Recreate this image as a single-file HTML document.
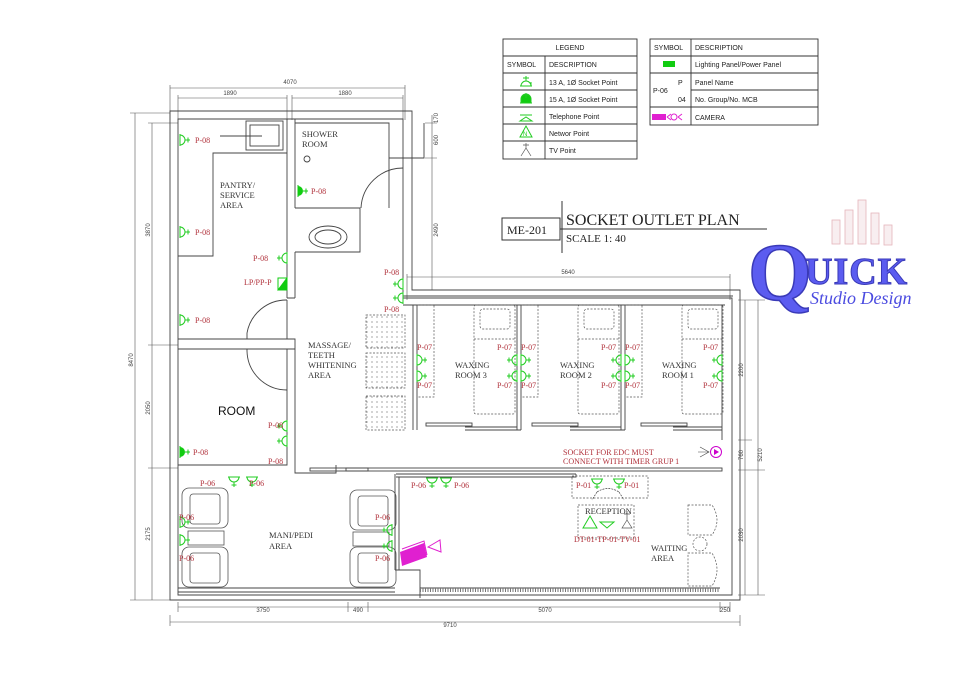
<!DOCTYPE html>
<html><head><meta charset="utf-8"><style>
html,body{margin:0;padding:0;background:#fff}
svg{display:block}
text{font-family:"Liberation Serif",serif}
.s,.s text,text.s{font-family:"Liberation Sans",sans-serif}
.r{fill:#b0303a;font-size:8px}
.l{fill:#333;font-size:8.5px}
.d,.d text{fill:#444;font-size:6px;font-family:"Liberation Sans",sans-serif}
</style></head><body>
<svg width="960" height="678" viewBox="0 0 960 678" xmlns="http://www.w3.org/2000/svg">
<defs>
<g id="sr"><path d="M0,-6 L0,6 M0,-5 A5,5 0 0 1 0,5 M5,0 L10,0 M8,-2.5 L8,2.5" fill="none" stroke="#2c2" stroke-width="1"/></g>
<g id="sl"><path d="M0,-6 L0,6 M0,-5 A5,5 0 0 0 0,5 M-5,0 L-10,0 M-8,-2.5 L-8,2.5" fill="none" stroke="#2c2" stroke-width="1"/></g>
<g id="sd"><path d="M-6,0 L6,0 M-5,0 A5,5 0 0 0 5,0 M0,5 L0,10 M-2.5,8 L2.5,8" fill="none" stroke="#2c2" stroke-width="1"/></g>
<g id="fr"><path d="M0,-5 A5,5 0 0 1 0,5 Z" fill="#1c1"/><path d="M0,-6 L0,6 M5,0 L10,0 M8,-2.5 L8,2.5" stroke="#1c1" stroke-width="1"/></g>
<pattern id="dots" width="5" height="5" patternUnits="userSpaceOnUse"><circle cx="2" cy="2" r="0.6" fill="#666"/></pattern>
</defs>
<g stroke="#555" stroke-width="0.6" fill="none">
<path d="M170,88 H405 M178,98 H287 M292,98 H403 M170,85 V120 M405,85 V120 M178,95 V120 M287,95 V120 M292,95 V120 M403,95 V120"/>
<path d="M135,113 V600 M130,113 H170 M130,600 H170 M152,123 V600 M148,123 H178 M148,345 H178 M148,468 H178 M148,600 H178"/>
<path d="M432,115 V290 M425,123 H437 M425,158 H437 M425,290 H437 M407,277 H730 M407,274 V300 M730,274 V300"/>
<path d="M745,300 V595 M758,300 V595 M738,300 H765 M738,440 H752 M738,470 H765 M738,595 H765"/>
<path d="M178,607 H730 M170,622 H740 M178,602 V612 M348,602 V612 M368,602 V612 M720,602 V612 M730,602 V612 M170,615 V626 M740,615 V626"/>
</g>
<g class="d" text-anchor="middle">
<text x="290" y="84">4070</text><text x="230" y="95">1890</text><text x="345" y="95">1880</text>
<text x="568" y="274">5640</text>
<text x="263" y="612">3750</text><text x="358" y="612">490</text><text x="545" y="612">5070</text><text x="725" y="612">250</text>
<text x="450" y="627">9710</text>
<text transform="translate(133,360) rotate(-90)">8470</text>
<text transform="translate(150,230) rotate(-90)">3870</text>
<text transform="translate(150,408) rotate(-90)">2050</text>
<text transform="translate(150,534) rotate(-90)">2175</text>
<text transform="translate(438,140) rotate(-90)">600</text>
<text transform="translate(438,118) rotate(-90)">170</text>
<text transform="translate(438,230) rotate(-90)">2490</text>
<text transform="translate(743,370) rotate(-90)">2200</text>
<text transform="translate(743,455) rotate(-90)">760</text>
<text transform="translate(743,535) rotate(-90)">2030</text>
<text transform="translate(762,455) rotate(-90)">5210</text>
</g>
<g stroke="#444" stroke-width="0.9" fill="none">
<path d="M170,111 H412 V290 H740 V600 H170 Z"/>
<path d="M178,119 H403 V298 H732 V595 H178 Z"/>
<path d="M287,119 V298 M295,119 V208 M295,252 V298 M287,298 H295"/>
<path d="M178,339 H295 V349 H178 M287,300 V339 M287,390 V465 H178 M295,390 V473 H336 V465 M295,349 V390 M287,349 V390"/>
<path d="M247,333 A40,40 0 0 1 287,300 M247,351 A40,40 0 0 0 287,390 M247,333 V339 M247,349 V351"/>
<path d="M178,256 H213 V153 H287"/>
<rect x="246" y="121" width="37" height="29"/><rect x="250" y="125" width="29" height="21"/>
<path d="M220,136 H262"/>
<path d="M295,123 H389 V158 H424 V123 M389,158 V208 M295,208 H360 V218 M295,252 H360 V218"/>
<path d="M361,208 A42,42 0 0 1 403,168"/>
<ellipse cx="328" cy="237" rx="19" ry="11"/><ellipse cx="328" cy="237" rx="13" ry="7"/>
<circle cx="307" cy="159" r="3"/>
<path d="M403,296 H733 M403,305 H725 M413,305 V430 M417,305 V430 M517,305 V430 M521,305 V430 M621,305 V430 M625,305 V430 M722,305 V440 M465,430 H521 M570,430 H625 M673,430 H722 M465,427 H517 M570,427 H621 M673,427 H722"/>
<rect x="426" y="423" width="46" height="3"/><rect x="532" y="423" width="46" height="3"/><rect x="641" y="423" width="46" height="3"/>
<rect x="346" y="468" width="376" height="3"/>
<path d="M396,474 H576 M396,477 H576 V474 M395,474 V570 M399,477 V570 M395,570 H420 V598 M178,588 H395 M178,592 H395 M420,588 H720"/>
<rect x="310" y="468" width="58" height="3"/>
</g>
<path d="M420,590 H720" stroke="#777" stroke-width="4" stroke-dasharray="1 1.5" fill="none"/>
<g stroke="#555" stroke-width="0.7" fill="none" stroke-dasharray="2 1.5">
<rect x="474" y="305" width="41" height="109" rx="2"/><rect x="480" y="309" width="30" height="20" rx="3"/><path d="M474,339 H515"/>
<rect x="578" y="305" width="41" height="109" rx="2"/><rect x="584" y="309" width="30" height="20" rx="3"/><path d="M578,339 H619"/>
<rect x="682" y="305" width="41" height="109" rx="2"/><rect x="688" y="309" width="30" height="20" rx="3"/><path d="M682,339 H723"/>
<rect x="417" y="305" width="17" height="92"/><rect x="521" y="305" width="17" height="92"/><rect x="625" y="305" width="17" height="92"/>
<rect x="366" y="315" width="39" height="33" fill="url(#dots)"/><rect x="366" y="353" width="39" height="35" fill="url(#dots)"/><rect x="366" y="396" width="39" height="34" fill="url(#dots)"/>
<rect x="572" y="476" width="76" height="22"/><rect x="578" y="505" width="56" height="33"/>
<path d="M688,505 H712 Q722,520 712,535 H688 Z M688,553 H712 Q722,570 712,586 H688 Z"/>
<circle cx="700" cy="544" r="7"/>
</g>
<g stroke="#555" stroke-width="0.8" fill="none">
<rect x="182" y="488" width="46" height="40" rx="7"/><rect x="190" y="494" width="30" height="30" rx="3"/>
<rect x="182" y="547" width="46" height="40" rx="7"/><rect x="190" y="553" width="30" height="30" rx="3"/>
<rect x="188" y="531" width="36" height="14"/>
<rect x="350" y="490" width="46" height="40" rx="7"/><rect x="358" y="496" width="30" height="30" rx="3"/>
<rect x="350" y="547" width="46" height="40" rx="7"/><rect x="358" y="553" width="30" height="30" rx="3"/>
<rect x="353" y="532" width="36" height="14"/>
</g>
<use href="#sr" x="180" y="140"/><use href="#sr" x="180" y="232"/><use href="#sr" x="180" y="320"/>
<use href="#fr" x="298" y="191"/><use href="#fr" x="180" y="452"/>
<use href="#sl" x="287" y="258"/><use href="#sl" x="287" y="426"/><use href="#sl" x="287" y="441"/>
<use href="#sl" x="403" y="284"/><use href="#sl" x="403" y="298"/>
<use href="#sr" x="417" y="360"/><use href="#sr" x="417" y="376"/>
<use href="#sl" x="517" y="360"/><use href="#sl" x="517" y="376"/><use href="#sr" x="521" y="360"/><use href="#sr" x="521" y="376"/>
<use href="#sl" x="621" y="360"/><use href="#sl" x="621" y="376"/><use href="#sr" x="625" y="360"/><use href="#sr" x="625" y="376"/>
<use href="#sl" x="722" y="360"/><use href="#sl" x="722" y="376"/>
<use href="#sd" x="234" y="477"/><use href="#sd" x="252" y="477"/><use href="#sd" x="432" y="478"/><use href="#sd" x="446" y="478"/>
<use href="#sd" x="597" y="479"/><use href="#sd" x="619" y="479"/>
<use href="#sr" x="180" y="522"/><use href="#sr" x="180" y="540"/><use href="#sl" x="392" y="530"/><use href="#sl" x="392" y="546"/>
<path d="M287,278 L287,290 L278,290 Z" fill="#1c1" stroke="#1c1"/><rect x="278" y="278" width="9" height="12" fill="none" stroke="#1c1"/>
<path d="M583,528 L590,516 L597,528 Z M600,522 H614 L607,528 Z" fill="none" stroke="#2c2"/>
<path d="M622,528 L627,520 L632,528 Z M627,520 V511 M624,514 H630" fill="none" stroke="#555" stroke-width="0.7"/>
<path d="M597,492 Q608,485 619,492 M597,492 L592,500 M619,492 L624,500" fill="none" stroke="#444" stroke-width="0.7" stroke-dasharray="2 1"/>
<path d="M400,552 L424,543 L427,557 L402,566 Z" fill="#e020d0"/>
<path d="M402,549 L424,541 L427,555" fill="none" stroke="#e020d0"/>
<path d="M428,547 L440,540 L441,552 Z" fill="none" stroke="#e020d0"/>
<circle cx="716" cy="452" r="5.5" fill="none" stroke="#c0c"/><path d="M714,449 L719,452 L714,455 Z" fill="#c0c"/>
<path d="M700,447 L709,452 L700,457 M698,452 H709" fill="none" stroke="#444" stroke-width="0.6"/>
<g class="r">
<text x="195" y="143">P-08</text><text x="195" y="235">P-08</text><text x="195" y="323">P-08</text><text x="311" y="194">P-08</text>
<text x="253" y="261">P-08</text><text x="244" y="285">LP/PP-P</text><text x="193" y="455">P-08</text>
<text x="268" y="428">P-08</text><text x="268" y="464">P-08</text><text x="384" y="275">P-08</text><text x="384" y="312">P-08</text>
<text x="417" y="350">P-07</text><text x="417" y="388">P-07</text><text x="497" y="350">P-07</text><text x="497" y="388">P-07</text>
<text x="521" y="350">P-07</text><text x="521" y="388">P-07</text><text x="601" y="350">P-07</text><text x="601" y="388">P-07</text>
<text x="625" y="350">P-07</text><text x="625" y="388">P-07</text><text x="703" y="350">P-07</text><text x="703" y="388">P-07</text>
<text x="200" y="486">P-06</text><text x="249" y="486">P-06</text><text x="411" y="488">P-06</text><text x="454" y="488">P-06</text>
<text x="179" y="520">P-06</text><text x="179" y="561">P-06</text><text x="375" y="520">P-06</text><text x="375" y="561">P-06</text>
<text x="576" y="488">P-01</text><text x="624" y="488">P-01</text>
<text x="574" y="542">DT-01-TP-01-TV-01</text>
<text x="563" y="455">SOCKET FOR EDC MUST</text><text x="563" y="464">CONNECT WITH TIMER GRUP 1</text>
</g>
<g class="l">
<text x="302" y="137">SHOWER</text><text x="302" y="147">ROOM</text>
<text x="220" y="188">PANTRY/</text><text x="220" y="198">SERVICE</text><text x="220" y="208">AREA</text>
<text x="308" y="348">MASSAGE/</text><text x="308" y="358">TEETH</text><text x="308" y="368">WHITENING</text><text x="308" y="378">AREA</text>
<text x="455" y="368">WAXING</text><text x="455" y="378">ROOM 3</text><text x="560" y="368">WAXING</text><text x="560" y="378">ROOM 2</text><text x="662" y="368">WAXING</text><text x="662" y="378">ROOM 1</text>
<text x="269" y="538">MANI/PEDI</text><text x="269" y="549">AREA</text>
<text x="585" y="514">RECEPTION</text><text x="651" y="551">WAITING</text><text x="651" y="561">AREA</text>
</g>
<text x="218" y="415" class="s" font-size="12" fill="#111">ROOM</text>
<g stroke="#333" stroke-width="0.9" fill="none">
<rect x="503" y="39" width="134" height="120"/>
<path d="M503,56 H637 M503,73 H637 M503,90 H637 M503,107 H637 M503,124 H637 M503,141 H637 M545,56 V159"/>
<rect x="650" y="39" width="168" height="86"/>
<path d="M650,56 H818 M650,73 H818 M691,90 H818 M650,107 H818 M691,39 V125"/>
</g>
<g class="s" font-size="7" fill="#222">
<text x="570" y="50" text-anchor="middle">LEGEND</text>
<text x="507" y="67">SYMBOL</text><text x="549" y="67">DESCRIPTION</text>
<text x="549" y="85">13 A, 1Ø  Socket Point</text><text x="549" y="102">15 A, 1Ø Socket Point</text>
<text x="549" y="119">Telephone Point</text><text x="549" y="136">Networ Point</text><text x="549" y="153">TV Point</text>
<text x="654" y="50">SYMBOL</text><text x="695" y="50">DESCRIPTION</text>
<text x="695" y="67">Lighting Panel/Power Panel</text><text x="695" y="85">Panel Name</text>
<text x="695" y="102">No. Group/No. MCB</text><text x="695" y="120">CAMERA</text>
<text x="653" y="93">P-06</text><text x="678" y="85">P</text><text x="678" y="102">04</text>
</g>
<g stroke="#2c2" fill="none">
<path d="M520,86 H532 M521,86 A5,5 0 0 1 531,86 V82 M526,76 V81 M523,78 H529"/>
<path d="M520,103 H532 M521,103 V99 A5,5 0 0 1 531,99 V103 M526,93 V98 M523,95 H529" fill="#1c1"/>
<path d="M520,115 H532 M520,121 H532 L526,117 Z"/>
<path d="M520,137 L526,126 L532,137 Z"/>
</g>
<text x="523" y="136" font-size="6" fill="#2c2" class="s">N</text>
<path d="M521,156 L526,148 L531,156 M526,148 V143 M523,145 H529" stroke="#555" fill="none" stroke-width="0.7"/>
<rect x="663" y="61" width="12" height="6" fill="#1c1"/>
<path d="M652,114 H666 V120 H652 Z" fill="#e020d0"/><circle cx="674" cy="117" r="3" fill="none" stroke="#e020d0"/><path d="M667,117 L671,114 M667,117 L671,120 M678,117 L682,114 M678,117 L682,120" stroke="#e020d0"/>
<rect x="502" y="218" width="58" height="22" fill="none" stroke="#333"/>
<text x="507" y="234" font-size="12" fill="#222">ME-201</text>
<path d="M560,229 H767 M562,201 V253" stroke="#333" fill="none"/>
<text x="566" y="225" font-size="16" fill="#222">SOCKET OUTLET PLAN</text>
<text x="566" y="242" font-size="11" fill="#222">SCALE 1: 40</text>
<g fill="#f8eef0" stroke="#e5b5bb" stroke-width="0.8"><rect x="832" y="220" width="8" height="24"/><rect x="845" y="210" width="8" height="34"/><rect x="858" y="200" width="8" height="44"/><rect x="871" y="213" width="8" height="31"/><rect x="884" y="225" width="8" height="20"/></g>
<text x="748" y="300" font-family="Liberation Serif,serif" font-weight="bold" font-size="82" fill="#5b5cf0" stroke="#3a3ab8" stroke-width="1.5">Q</text>
<text x="805" y="284" font-family="Liberation Serif,serif" font-weight="bold" font-size="38" fill="#5b5cf0" stroke="#3a3ab8" stroke-width="1" letter-spacing="1">UICK</text>
<text x="810" y="304" font-family="Liberation Sans,sans-serif" font-style="italic" font-size="18" fill="#4b4be0">Studio Design</text>
</svg>
</body></html>
